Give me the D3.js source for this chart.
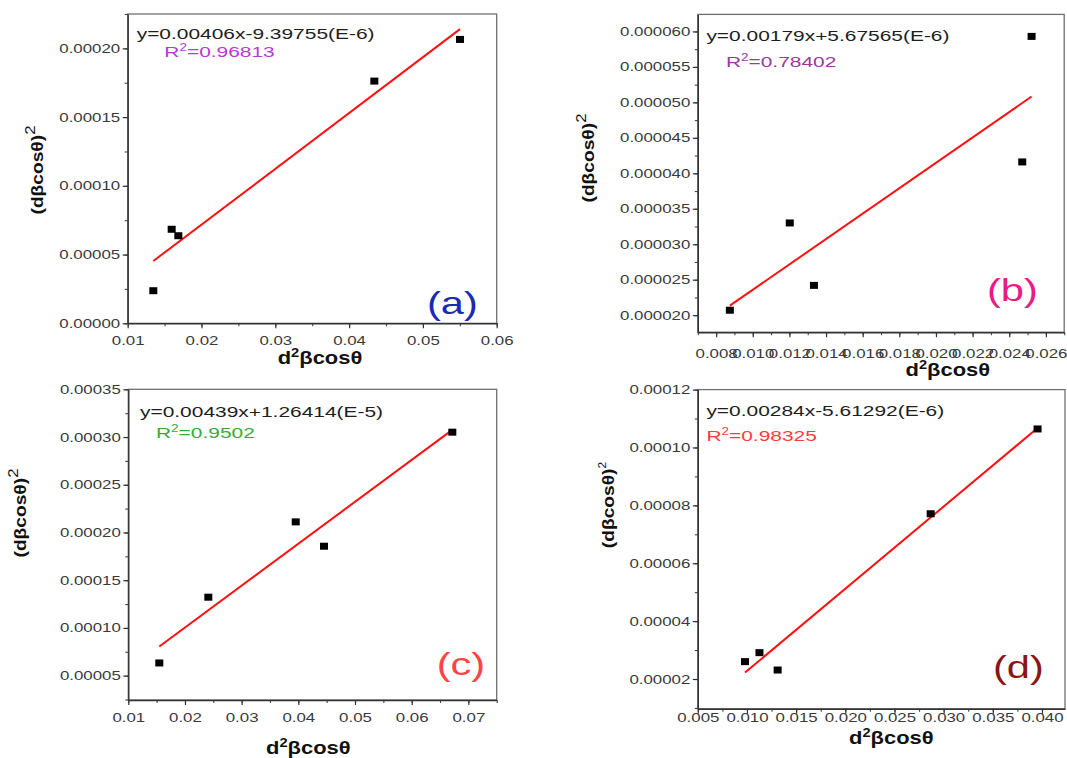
<!DOCTYPE html>
<html>
<head>
<meta charset="utf-8">
<script src="https://cdn.jsdelivr.net/npm/d3@7"></script>
<style>
  html, body { margin: 0; padding: 0; background: #fff; }
  svg { display: block; font-family: "Liberation Sans", Arial, sans-serif; }
</style>
</head>
<body>
<svg id="chart" width="1067" height="758"></svg>
<script>
// ---------------- DATA ----------------
const panelNames = ["(a)", "(b)", "(c)", "(d)"];

const aX = [0.01347, 0.01596, 0.01686, 0.04342, 0.05503];
const aY = [0.0000237, 0.0000684, 0.0000637, 0.0001762, 0.0002065];
const bX = [0.00875, 0.01202, 0.01334, 0.02471, 0.02522];
const bY = [0.0000207, 0.0000330, 0.0000242, 0.0000416, 0.0000593];
const cX = [0.01547, 0.02412, 0.03954, 0.04453, 0.06717];
const cY = [0.0000633, 0.0001322, 0.0002111, 0.0001856, 0.0003051];
const dX = [0.0098, 0.01127, 0.01312, 0.02868, 0.03955];
const dY = [0.0000260, 0.0000291, 0.0000231, 0.0000771, 0.0001064];

const fitSlope = [0.00406, 0.00179, 0.00439, 0.00284];
const fitIntercept = [-9.39755e-6, 5.67565e-6, 1.26414e-5, -5.61292e-6];
const eqText = ["y=0.00406x-9.39755(E-6)", "y=0.00179x+5.67565(E-6)",
                "y=0.00439x+1.26414(E-5)", "y=0.00284x-5.61292(E-6)"];
const r2Value = ["0.96813", "0.78402", "0.9502", "0.98325"];

const aXTicks = [0.01, 0.02, 0.03, 0.04, 0.05, 0.06];
const aYTicks = [0, 0.00005, 0.0001, 0.00015, 0.0002];
const bXTicks = [0.008, 0.010, 0.012, 0.014, 0.016, 0.018, 0.020, 0.022, 0.024, 0.026];
const bYTicks = [0.000020, 0.000025, 0.000030, 0.000035, 0.000040, 0.000045, 0.000050, 0.000055, 0.000060];
const cXTicks = [0.01, 0.02, 0.03, 0.04, 0.05, 0.06, 0.07];
const cYTicks = [0.00005, 0.0001, 0.00015, 0.0002, 0.00025, 0.0003, 0.00035];
const dXTicks = [0.005, 0.010, 0.015, 0.020, 0.025, 0.030, 0.035, 0.040];
const dYTicks = [0.00002, 0.00004, 0.00006, 0.00008, 0.0001, 0.00012];

const xDomains = [[0.01, 0.06], [0.007, 0.027], [0.01, 0.075], [0.005, 0.04234]];
const yDomains = [[0, 0.000225], [0.0000176, 0.0000624], [0.0000245, 0.00035], [0.0000097, 0.00012]];
const xFormats = [".2f", ".3f", ".2f", ".3f"];
const yFormats = [".5f", ".6f", ".5f", ".5f"];

const xLabel = "d²βcosθ";
const yLabelMain = "(dβcosθ)";

// ---------------- LAYOUT / STYLE ----------------
const SX = 1.35; // horizontal stretch of glyphs in the reference
const frames = [
  {l: 127.7, t: 14,    r: 496.7, b: 323.3},
  {l: 697.8, t: 14.4,  r: 1064.2, b: 332.2},
  {l: 128.3, t: 389.3, r: 496.7, b: 700},
  {l: 697.8, t: 389.6, r: 1065,  b: 708.8}
];
const eqPos   = [[136.7, 39], [706.4, 41], [140, 417.3], [706.4, 416]];
const r2Pos   = [[164.3, 57], [725.9, 66.8], [156, 438.3], [706.4, 441]];
const r2Color = ["#b43cd2", "#9a3a9c", "#3ca83c", "#ff3c3c"];
const tagPos  = [[427, 314], [987, 301], [436.7, 675], [993, 678]];
const tagColor = ["#1a2ab4", "#e81c84", "#ff4444", "#8c1414"];
const xlabPos = [[320, 364], [947.8, 376], [308.3, 754], [891.3, 744]];
const ylabPos = [[37, 170], [588, 158], [20, 513], [608, 505]];
const xTickBase = [345, 358, 721.7, 721.7];

const xData = [aX, bX, cX, dX];
const yData = [aY, bY, cY, dY];
const xTicks = [aXTicks, bXTicks, cXTicks, dXTicks];
const yTicks = [aYTicks, bYTicks, cYTicks, dYTicks];

const svg = d3.select("#chart");

function stretchText(sel, x, y, sx) {
  return sel.attr("transform", `translate(${x},${y}) scale(${sx},1)`);
}

for (let i = 0; i < 4; i++) {
  const f = frames[i];
  const x = d3.scaleLinear().domain(xDomains[i]).range([f.l, f.r]);
  const y = d3.scaleLinear().domain(yDomains[i]).range([f.b, f.t]);
  const g = svg.append("g");

  // frame
  g.append("rect")
    .attr("x", f.l).attr("y", f.t)
    .attr("width", f.r - f.l).attr("height", f.b - f.t)
    .attr("fill", "none").attr("stroke", "#707070").attr("stroke-width", 1.3);

  // minor ticks
  const xt = xTicks[i], yt = yTicks[i];
  const xStep = xt[1] - xt[0], yStep = yt[1] - yt[0];
  const xMinor = d3.range(xt[0] - xStep / 2, xDomains[i][1] + 1e-12, xStep / 2)
    .filter(v => v >= xDomains[i][0] - 1e-12);
  const yMinor = d3.range(yt[0] - yStep / 2, yDomains[i][1] + 1e-15, yStep / 2)
    .filter(v => v >= yDomains[i][0] - 1e-15);

  g.append("g").attr("transform", `translate(0,${f.b})`)
    .call(d3.axisBottom(x).tickValues(xMinor).tickSize(3).tickSizeOuter(0).tickFormat(""))
    .call(a => a.select(".domain").remove())
    .call(a => a.selectAll("line").attr("stroke", "#444").attr("stroke-width", 1.1));
  g.append("g").attr("transform", `translate(${f.l},0)`)
    .call(d3.axisLeft(y).tickValues(yMinor).tickSize(3).tickSizeOuter(0).tickFormat(""))
    .call(a => a.select(".domain").remove())
    .call(a => a.selectAll("line").attr("stroke", "#444").attr("stroke-width", 1.1));

  // major x axis
  const xa = g.append("g").attr("transform", `translate(0,${f.b})`)
    .call(d3.axisBottom(x).tickValues(xt).tickSize(5).tickSizeOuter(0).tickFormat(d3.format(xFormats[i])));
  xa.select(".domain").attr("stroke", "#333").attr("stroke-width", 1.4);
  xa.selectAll("line").attr("stroke", "#333").attr("stroke-width", 1.2);
  xa.selectAll("text")
    .attr("y", xTickBase[i] - f.b).attr("dy", 0)
    .attr("fill", "#3a3a3a").attr("font-size", 12.5)
    .attr("font-family", "'Liberation Sans', Arial, sans-serif")
    .attr("transform", `scale(${SX},1)`)
    .attr("x", 0);

  // major y axis
  const ya = g.append("g").attr("transform", `translate(${f.l},0)`)
    .call(d3.axisLeft(y).tickValues(yt).tickSize(5).tickSizeOuter(0).tickFormat(d3.format(yFormats[i])));
  ya.select(".domain").attr("stroke", "#333").attr("stroke-width", 1.4);
  ya.selectAll("line").attr("stroke", "#333").attr("stroke-width", 1.2);
  ya.selectAll("text")
    .attr("x", -7.5 / SX)
    .attr("fill", "#3a3a3a").attr("font-size", 12.5)
    .attr("font-family", "'Liberation Sans', Arial, sans-serif")
    .attr("transform", `scale(${SX},1)`);

  // fit line
  const xs = xData[i], ys = yData[i];
  const x0 = d3.min(xs), x1 = d3.max(xs);
  const fit = [x0, x1].map(v => [v, fitSlope[i] * v + fitIntercept[i]]);
  g.append("path")
    .attr("d", d3.line().x(d => x(d[0])).y(d => y(d[1]))(fit))
    .attr("stroke", "#ff1010").attr("stroke-width", 2).attr("fill", "none");

  // points
  g.selectAll("rect.pt").data(xs.map((v, k) => [v, ys[k]])).enter()
    .append("rect").attr("class", "pt")
    .attr("x", d => x(d[0]) - 4).attr("y", d => y(d[1]) - 3.5)
    .attr("width", 8).attr("height", 7).attr("fill", "#000");

  // equation
  stretchText(g.append("text"), eqPos[i][0], eqPos[i][1], SX)
    .attr("font-size", 15.5).attr("fill", "#1e1e1e").text(eqText[i]);
  const r2 = stretchText(g.append("text"), r2Pos[i][0], r2Pos[i][1], SX)
    .attr("font-size", 15.5).attr("fill", r2Color[i]);
  r2.append("tspan").text("R");
  r2.append("tspan").attr("font-size", 10).attr("dy", -6).text("2");
  r2.append("tspan").attr("dy", 6).text("=" + r2Value[i]);

  // panel tag
  stretchText(g.append("text"), tagPos[i][0], tagPos[i][1], 1.3)
    .attr("font-size", 32).attr("fill", tagColor[i]).text(panelNames[i]);

  // x label
  const xl = stretchText(g.append("text"), xlabPos[i][0], xlabPos[i][1], 1.22)
    .attr("font-size", 18).attr("font-weight", "bold").attr("fill", "#111")
    .attr("text-anchor", "middle");
  xl.append("tspan").text("d");
  xl.append("tspan").attr("font-size", 12).attr("dy", -7).text("2");
  xl.append("tspan").attr("dy", 7).text("βcosθ");

  // y label
  const yl = g.append("text")
    .attr("transform", `translate(${ylabPos[i][0]},${ylabPos[i][1]}) rotate(-90) scale(1.2,1)`)
    .attr("font-size", 16).attr("font-weight", "bold").attr("fill", "#111")
    .attr("text-anchor", "middle").attr("dy", 6);
  yl.append("tspan").text(yLabelMain);
  yl.append("tspan").attr("font-size", i === 3 ? 10 : 14).attr("font-weight", "normal")
    .attr("dy", -8).text("2");
}
</script>
</body>
</html>
